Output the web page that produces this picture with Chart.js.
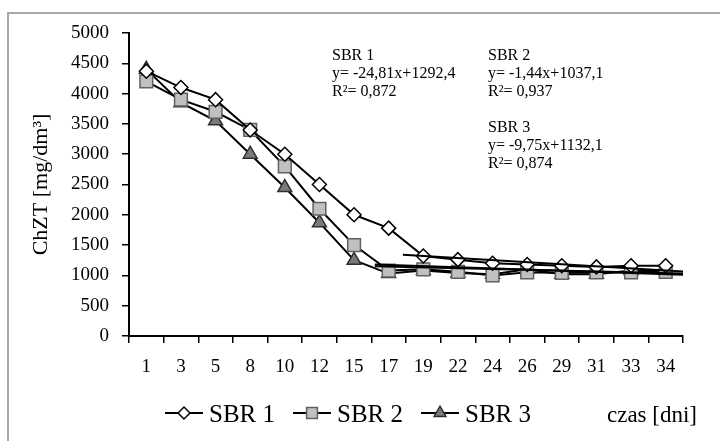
<!DOCTYPE html>
<html><head><meta charset="utf-8">
<script src="https://cdn.jsdelivr.net/npm/chart.js@4.4.1/dist/chart.umd.min.js"></script>
<style>
html,body{margin:0;padding:0;background:#fff;}
#wrap{position:relative;width:720px;height:441px;overflow:hidden;background:#fff;}
#frame{position:absolute;left:7px;top:12px;width:800px;height:600px;border-left:2px solid #a8a8a8;border-top:2px solid #a8a8a8;}
canvas{position:absolute;left:0;top:0;}
</style></head><body>
<div id="wrap"><div id="frame"></div><canvas id="c" width="720" height="441"></canvas></div>
<script>
// ---- data ----
const days = ['1','3','5','8','10','12','15','17','19','22','24','26','29','31','33','34'];
const sbr1 = [4370,4100,3900,3400,3000,2500,2000,1780,1320,1260,1200,1180,1160,1140,1160,1160];
const sbr2 = [4200,3900,3700,3400,2800,2100,1500,1080,1100,1060,1000,1050,1040,1050,1050,1060];
const sbr3 = [4400,3850,3550,3000,2450,1870,1250,1030,1080,1040,1020,1100,1020,1020,1080,1080];
// trend line end points (x in category-position units, y in mg/dm3)
const trend1X = [7.41, 15.64], trend1Y = [1340, 1060];
const trend2X = [6.6, 15.64],  trend2Y = [1150, 1030];
const trend3X = [6.6, 15.64],  trend3Y = [1180, 1010];
const yTicks = {min:0, max:5000, step:500};
const seriesNames = ['SBR 1','SBR 2','SBR 3'];
const eqLines = [
  ['SBR 1','y= -24,81x+1292,4','R\u00B2= 0,872'],
  ['SBR 2','y= -1,44x+1037,1','R\u00B2= 0,937'],
  ['SBR 3','y= -9,75x+1132,1','R\u00B2= 0,874']
];
const yTitle = 'ChZT [mg/dm\u00B3]';
const xTitle = 'czas [dni]';

const SERIF = '"Liberation Serif","Times New Roman",serif';
const styles = [
  {pointStyle:'rectRot', radius:7, bg:'#ffffff', border:'#000000'},
  {pointStyle:'rect', radius:9, bg:'#c0c0c0', border:'#606060'},
  {pointStyle:'triangle', radius:8, bg:'#7a7a7a', border:'#303030'}
];

function pts(xs, ys){ return xs.map((x,i)=>({x:x, y:ys[i]})); }

const mainSets = [sbr1,sbr2,sbr3].map((d,i)=>({
  label: seriesNames[i], data: d, xAxisID:'x', yAxisID:'y',
  borderColor:'#000', borderWidth:2, tension:0, order:2,
  pointStyle: styles[i].pointStyle, pointRadius: styles[i].radius,
  pointBackgroundColor: styles[i].bg, pointBorderColor: styles[i].border, pointBorderWidth:1.5
}));
const trendSets = [[trend1X,trend1Y],[trend2X,trend2Y],[trend3X,trend3Y]].map((t,i)=>({
  label:'trend '+(i+1), data: pts(t[0],t[1]), xAxisID:'xt', yAxisID:'y',
  borderColor:'#000', borderWidth:2, pointRadius:0, order:1, tension:0
}));

const annotPlugin = {
  id:'annot',
  afterDraw(chart){
    const ctx = chart.ctx;
    ctx.save();
    ctx.fillStyle = '#000';
    // equations
    ctx.font = '16px ' + SERIF;
    ctx.textBaseline = 'alphabetic';
    ctx.textAlign = 'left';
    const blocks = [{x:332, y:60},{x:488, y:60},{x:488, y:132}];
    eqLines.forEach((lines,bi)=>{
      lines.forEach((t,li)=>{ ctx.fillText(t, blocks[bi].x, blocks[bi].y + li*18); });
    });
    // legend
    const baseY = 422, midY = 413;
    let x = 165;
    ctx.font = '25px ' + SERIF;
    mainSets.forEach((ds,i)=>{
      ctx.strokeStyle = '#000'; ctx.lineWidth = 2;
      ctx.beginPath(); ctx.moveTo(x, midY); ctx.lineTo(x+38, midY); ctx.stroke();
      ctx.fillStyle = styles[i].bg; ctx.strokeStyle = styles[i].border; ctx.lineWidth = 1.5;
      Chart.helpers.drawPoint(ctx, {pointStyle: styles[i].pointStyle, radius: styles[i].radius*0.85, borderWidth:1.5}, x+19, midY);
      ctx.fillStyle = '#000';
      ctx.fillText(ds.label, x+44, baseY);
      x += 44 + ctx.measureText(ds.label).width + 18;
    });
    ctx.font = '23px ' + SERIF;
    ctx.textAlign = 'right';
    ctx.fillText(xTitle, 697, baseY);
    ctx.restore();
  }
};

new Chart(document.getElementById('c'), {
  type:'line',
  data:{ labels: days, datasets: [...trendSets, ...mainSets] },
  options:{
    responsive:false, animation:false,
    layout:{ padding:{left:0, right:37, top:33, bottom:0} },
    plugins:{ legend:{display:false}, tooltip:{enabled:false} },
    scales:{
      x:{
        type:'category', offset:true,
        grid:{offset:true, drawOnChartArea:false, drawTicks:true, tickLength:7, color:'#000', lineWidth:1.5},
        border:{color:'#000', width:2},
        ticks:{color:'#000', font:{family:SERIF, size:19}, padding:13, maxRotation:0, autoSkip:false},
        afterFit(s){ s.height = 105; }
      },
      xt:{
        type:'linear', display:false, min:-0.5, max:15.5
      },
      y:{
        min:yTicks.min, max:yTicks.max,
        grid:{drawOnChartArea:false, drawTicks:true, tickLength:7, color:'#000', lineWidth:1.5},
        border:{color:'#000', width:2},
        ticks:{stepSize:yTicks.step, color:'#000', font:{family:SERIF, size:19}, padding:13,
               callback:(v)=>String(v)},
        title:{display:true, text:yTitle, color:'#000', font:{family:SERIF, size:22}, padding:{top:28, bottom:0}},
        afterFit(s){ s.width = 129; }
      }
    }
  },
  plugins:[annotPlugin]
});
</script>
</body></html>
